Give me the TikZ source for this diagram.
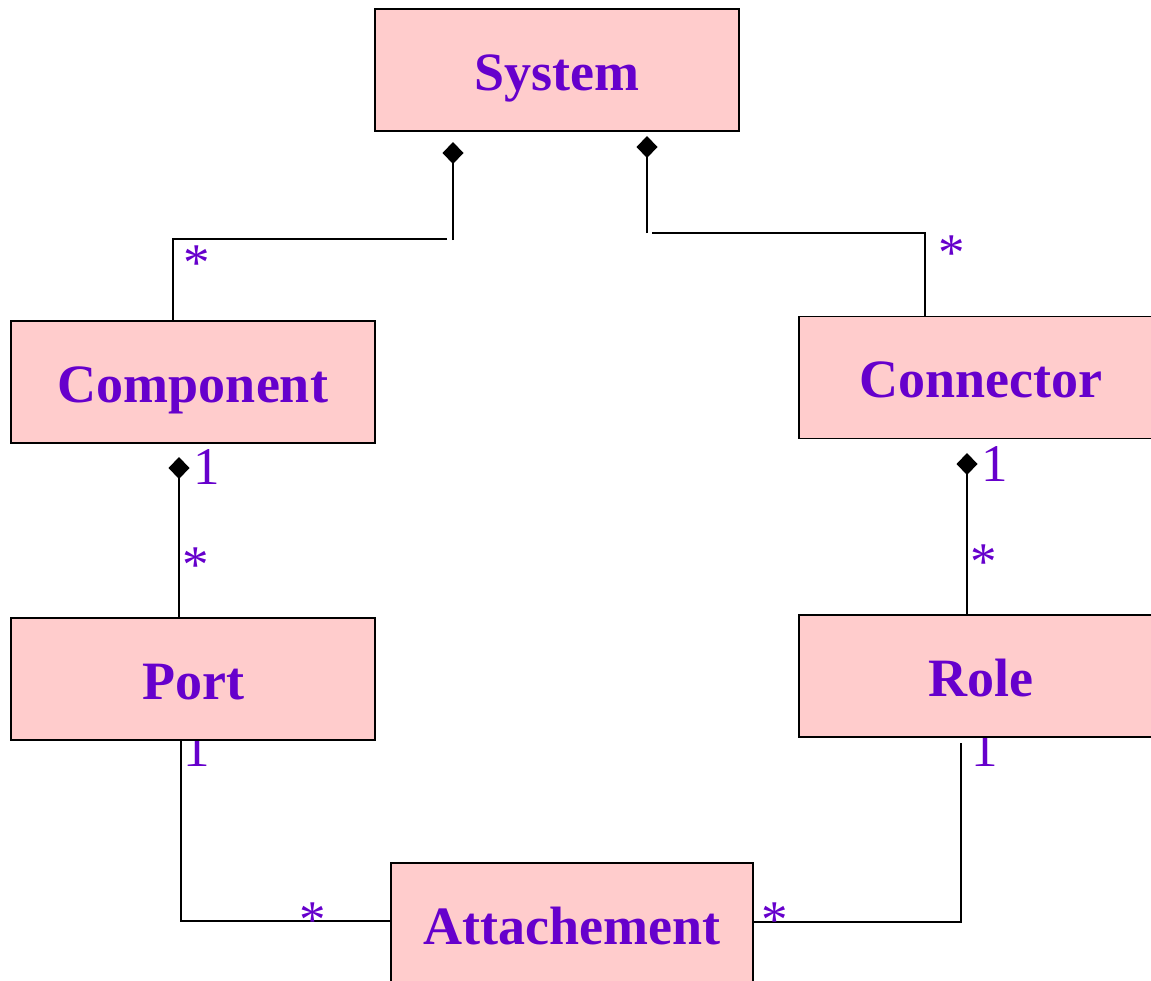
\documentclass[tikz,border=0pt]{standalone}
\usepackage{fontspec}
\setmainfont{Liberation Serif}
\usetikzlibrary{arrows.meta}
\definecolor{boxfill}{HTML}{FFCCCC}
\definecolor{txt}{HTML}{6600CC}
\begin{document}
\begin{tikzpicture}[x=1pt,y=-1pt,
  cls/.style={draw=black, line width=1.8pt, fill=boxfill, minimum width=364pt, minimum height=122pt, inner sep=0pt, text height=40pt, text depth=0pt, font=\fontsize{54}{60}\selectfont\bfseries, text=txt},
  lbl/.style={font=\fontsize{53}{60}\selectfont, text=txt, inner sep=0pt},
  link/.style={line width=1.8pt},
  agg/.style={link, -{Diamond[length=22pt,width=21pt]}}]
\useasboundingbox (0,0) rectangle (1151,980);
\clip (0,0) rectangle (1151,980);
% coordinates for connectors
\coordinate (d1) at (453,142);
\coordinate (j1) at (453,240);
\coordinate (h1) at (447,239);
\coordinate (c1) at (173,239);
\coordinate (d2) at (647,136);
\coordinate (j2) at (647,233);
\coordinate (h2) at (652,233);
\coordinate (c2) at (925,233);
\coordinate (d3) at (179,457);
\coordinate (p3) at (179,619);
\coordinate (d4) at (967,453);
\coordinate (p4) at (967,615);
\coordinate (a5) at (181,739);
\coordinate (b5) at (181,921);
\coordinate (e5) at (393,921);
\coordinate (a6) at (961,743);
\coordinate (b6) at (961,922);
\coordinate (e6) at (748,922);
% connectors
\draw[agg] (j1) -- (d1);
\draw[link] (h1) -- (c1) -- (c1 |- 0,321);
\draw[agg] (j2) -- (d2);
\draw[link] (h2) -- (c2) -- (c2 |- 0,317);
\draw[agg] (p3) -- (d3);
\draw[agg] (p4) -- (d4);
\draw[link] (a5) -- (b5) -- (e5);
\draw[link] (a6) -- (b6) -- (e6);
% multiplicity labels
\node[lbl] (m1) at (197,263) {*};
\node[lbl] (m2) at (952,253) {*};
\node[lbl] (m3) at (207,467) {1};
\node[lbl] (m4) at (196,565) {*};
\node[lbl] (m5) at (995,464) {1};
\node[lbl] (m6) at (984,562) {*};
\node[lbl] (m7) at (197,749) {1};
\node[lbl] (m8) at (985,749) {1};
\node[lbl] (m9) at (313,920) {*};
\node[lbl] (m10) at (775,920) {*};
% classes
\node[cls] (sys) at (557,70) {System};
\node[cls] (comp) at (193,382) {Component};
\node[cls] (conn) at (981,377.5) {Connector};
\node[cls] (port) at (193,679) {Port};
\node[cls] (role) at (981,676) {Role};
\node[cls, minimum width=362pt] (att) at (572,924) {Attachement};
\end{tikzpicture}
\end{document}
